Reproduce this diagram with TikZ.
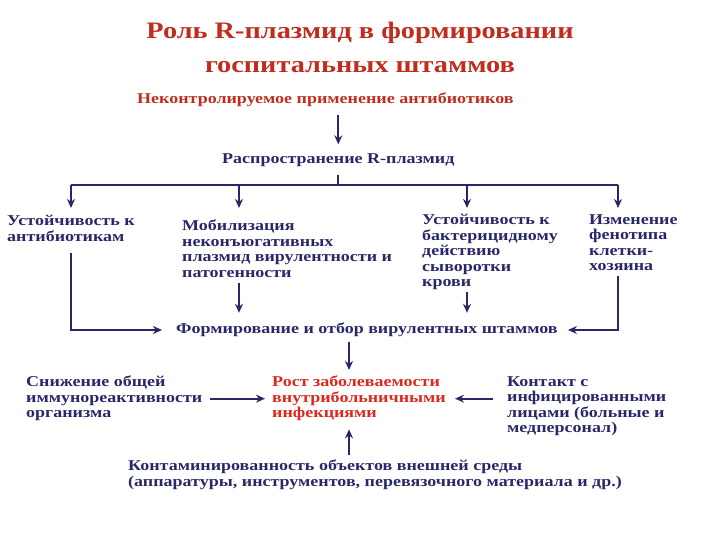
\documentclass[tikz,border=0pt]{standalone}
\usepackage{fontspec}
\setmainfont[FakeStretch=1.2]{Liberation Serif}
\usepackage{xcolor}
\usepackage{tikz}
\usetikzlibrary{positioning, arrows.meta}
\definecolor{navy}{RGB}{40,40,105}
\definecolor{titlered}{RGB}{190,45,30}
\definecolor{brightred}{RGB}{220,40,30}

\begin{document}
\begin{tikzpicture}[x=1pt, y=-1pt,
    txt/.style={inner sep=0pt, align=left, text=navy, font=\bfseries\fontsize{15}{15.5}\selectfont},
    arr/.style={-{Stealth[length=9pt, width=8pt]}, line width=2pt, draw=navy},
    ln/.style={line width=2pt, draw=navy}]
  \useasboundingbox (0,0) rectangle (720,540);

  \node[align=center, text=titlered, font=\bfseries\fontsize{23.6}{34}\selectfont] (title) at (360,47) {Роль R-плазмид в формировании\\госпитальных штаммов};

  \node[txt, text=titlered, anchor=west] (cause) at (137,100) {Неконтролируемое применение антибиотиков};
  \node[txt, anchor=west] (spread) at (222,160) {Распространение R-плазмид};

  \coordinate (b1) at (71,185);
  \coordinate (b2) at (239,185);
  \coordinate (b3) at (467,185);
  \coordinate (b4) at (618,185);

  \node[txt, anchor=north west] (res1) at (7,215) {Устойчивость к\\антибиотикам};
  \node[txt, anchor=north west] (mob) at (182,220) {Мобилизация\\неконъюгативных\\плазмид вирулентности и\\патогенности};
  \node[txt, anchor=north west] (res2) at (422,214) {Устойчивость к\\бактерицидному\\действию\\сыворотки\\крови};
  \node[txt, anchor=north west] (pheno) at (589,214) {Изменение\\фенотипа\\клетки-\\хозяина};

  \node[txt, anchor=west] (form) at (176,330) {Формирование и отбор вирулентных штаммов};

  \node[txt, text=brightred, anchor=north west] (growth) at (272,376) {Рост заболеваемости\\внутрибольничными\\инфекциями};
  \node[txt, anchor=north west] (immun) at (26,376) {Снижение общей\\иммунореактивности\\организма};
  \node[txt, anchor=north west] (contact) at (507,376) {Контакт с\\инфицированными\\лицами (больные и\\медперсонал)};
  \node[txt, anchor=north west] (contam) at (128,460) {Контаминированность объектов внешней среды\\(аппаратуры, инструментов, перевязочного материала и др.)};

  \coordinate (axis) at (349,350);

  \draw[arr, shorten <=8pt, shorten >=9pt] (cause.south -| spread.north) -- (spread.north);
  \draw[ln, shorten <=8pt] (spread.south) -- (spread.south |- b1);
  \draw[ln] (b1) -- (b4);
  \draw[arr, shorten >=7pt] (b1) -- (b1 |- res1.north);
  \draw[arr, shorten >=12pt] (b2) -- (b2 |- mob.north);
  \draw[arr, shorten >=6pt] (b3) -- (b3 |- res2.north);
  \draw[arr, shorten >=6pt] (b4) -- (b4 |- pheno.north);

  \draw[arr, shorten <=12pt, shorten >=14pt] (res1.south -| b1) |- (form.west);
  \draw[arr, shorten <=5pt, shorten >=10pt] (mob.south -| b2) -- (b2 |- form.north);
  \draw[arr, shorten <=2pt, shorten >=10pt] (res2.south -| b3) -- (b3 |- form.north);
  \draw[arr, shorten <=5pt, shorten >=10pt] (pheno.south -| b4) |- (form.east);

  \draw[arr, shorten <=5pt, shorten >=6pt] (form.south -| axis) -- (axis |- growth.north);
  \draw[arr, shorten <=7pt, shorten >=7pt] (immun.east) -- (immun.east -| growth.west);
  \draw[arr, shorten <=14pt, shorten >=9pt] (contact.west |- growth.east) -- (growth.east);
  \draw[arr, shorten <=5pt, shorten >=8pt] (contam.north -| axis) -- (axis |- growth.south);
\end{tikzpicture}
\end{document}
